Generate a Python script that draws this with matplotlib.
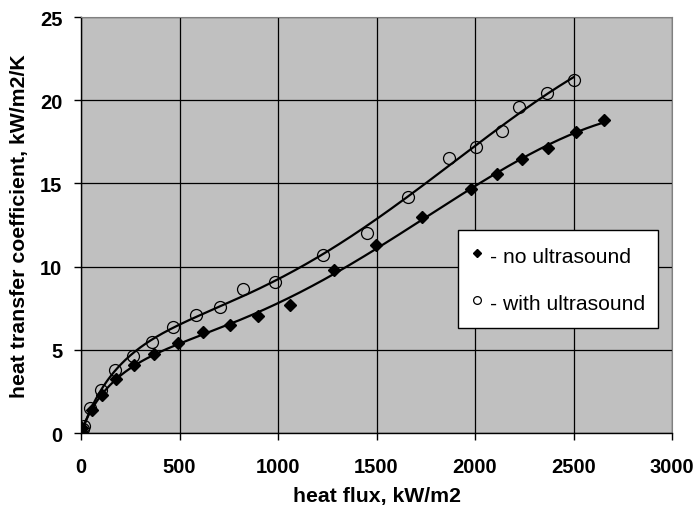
import numpy as np
import matplotlib
matplotlib.use("Agg")
import matplotlib.pyplot as plt

# data
x_no = [0, 7, 56, 108, 176, 269, 373, 490, 618, 754, 900, 1061, 1282, 1498, 1732, 1980, 2112, 2240, 2373, 2514, 2656]
y_no = [0.0, 0.3, 1.38, 2.28, 3.24, 4.08, 4.74, 5.42, 6.07, 6.51, 7.03, 7.72, 9.81, 11.3, 12.99, 14.67, 15.55, 16.45, 17.13, 18.07, 18.82]
x_us = [0, 10, 15, 47, 103, 174, 264, 360, 465, 586, 706, 823, 983, 1230, 1451, 1659, 1867, 2007, 2137, 2222, 2365, 2500]
y_us = [0.0, 0.25, 0.44, 1.52, 2.58, 3.8, 4.6, 5.45, 6.37, 7.07, 7.6, 8.65, 9.05, 10.71, 12.0, 14.2, 16.53, 17.17, 18.12, 19.6, 20.43, 21.22]

xticks = [0, 500, 1000, 1500, 2000, 2500, 3000]
yticks = [0, 5, 10, 15, 20, 25]
xlabel = "heat flux, kW/m2"
ylabel = "heat transfer coefficient, kW/m2/K"
labels = ["- no ultrasound", "- with ultrasound"]

plt.rcParams['font.family'] = ['Liberation Sans', 'DejaVu Sans']

fig = plt.figure(figsize=(6.99, 5.10), dpi=100)
ax = fig.add_axes([0.1159, 0.149, 0.8455, 0.8157])
ax.set_facecolor('#c0c0c0')


def trend(xs, ys, deg=5):
    s = np.sqrt(np.asarray(xs, float))
    c = np.polyfit(s, np.asarray(ys, float), deg)
    xx = np.linspace(0, max(xs), 400)
    return xx, np.polyval(c, np.sqrt(xx))


tx, ty = trend(x_no, y_no)
ax.plot(tx, ty, color='black', lw=1.6, zorder=3)
tx2, ty2 = trend(x_us, y_us)
ax.plot(tx2, ty2, color='black', lw=1.6, zorder=3)

ax.plot(x_no, y_no, linestyle='none', marker='D', ms=6, color='black',
        label=labels[0], zorder=4)
ax.plot(x_us, y_us, linestyle='none', marker='o', ms=8.6, mfc='none', mec='black',
        mew=0.9, label=labels[1], zorder=4)

ax.set_xlim(0, 3000)
ax.set_ylim(0, 25)
ax.set_xticks(xticks)
ax.set_yticks(yticks)
ax.grid(True, color='black', lw=0.9)
ax.set_axisbelow(True)
ax.tick_params(direction='out', length=5, width=1, labelsize=14.5)
ax.tick_params(axis='x', pad=12)
ax.tick_params(axis='y', pad=8.5)
for lab in ax.get_xticklabels() + ax.get_yticklabels():
    lab.set_fontweight('bold')
for side in ['top', 'right']:
    ax.spines[side].set_color('#808080')
for side in ['left', 'bottom']:
    ax.spines[side].set_color('black')
    ax.spines[side].set_linewidth(1)

ax.set_xlabel(xlabel, fontsize=15.3, fontweight='bold', labelpad=7.5)
ax.set_ylabel(ylabel, fontsize=15.3, fontweight='bold', labelpad=8)

leg = ax.legend(loc='upper left', bbox_to_anchor=(0.638, 0.488), frameon=True,
                fancybox=False, fontsize=15.2, handlelength=0.53, handletextpad=0.37,
                handleheight=1.4, labelspacing=1.07, borderpad=0.62,
                markerscale=0.65, borderaxespad=0)
leg.get_frame().set_edgecolor('black')
leg.get_frame().set_facecolor('white')
leg.get_frame().set_linewidth(1)
leg.get_frame().set_alpha(1)

fig.savefig('out.png', dpi=100)
